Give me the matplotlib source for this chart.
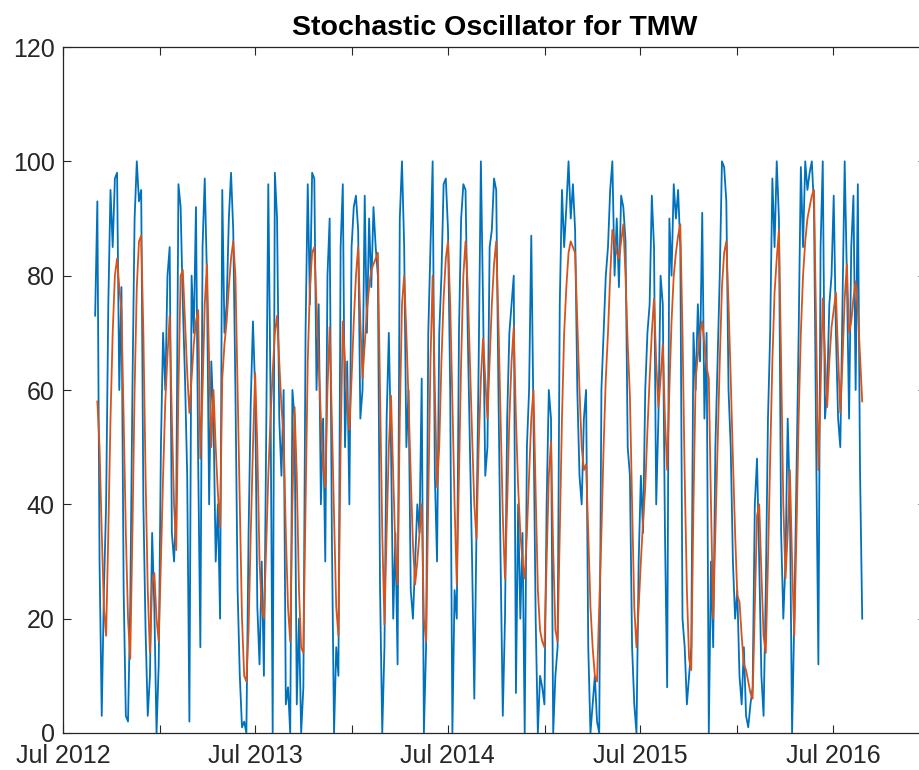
import numpy as np
import pandas as pd
import matplotlib
matplotlib.use('Agg')
import matplotlib.pyplot as plt

plt.rcParams['font.family'] = ['Liberation Sans', 'DejaVu Sans']

# %K (fast line), sampled evenly from 2012-08-31 to 2016-08-25
k_line = [
    73, 93, 30, 3, 25, 40, 75, 95, 85, 97,
    98, 60, 78, 25, 3, 2, 22, 60, 90, 100,
    93, 95, 40, 18, 3, 10, 35, 22, 0, 12,
    50, 70, 60, 80, 85, 35, 30, 40, 96, 92,
    75, 62, 45, 2, 80, 70, 92, 48, 15, 85,
    97, 80, 40, 65, 55, 30, 40, 20, 95, 70,
    75, 90, 98, 88, 60, 25, 10, 1, 2, 0,
    35, 58, 72, 60, 22, 12, 30, 10, 50, 96,
    60, 0, 98, 90, 55, 45, 60, 5, 8, 0,
    60, 55, 5, 20, 0, 8, 70, 96, 75, 98,
    97, 60, 75, 40, 55, 30, 80, 90, 35, 0,
    15, 10, 85, 96, 50, 65, 40, 85, 92, 94,
    88, 55, 60, 94, 70, 90, 78, 92, 85, 80,
    25, 0, 15, 55, 70, 50, 20, 35, 12, 90,
    100, 85, 50, 60, 25, 20, 30, 40, 35, 62,
    0, 15, 70, 85, 100, 45, 30, 70, 80, 96,
    97, 88, 60, 0, 25, 20, 70, 90, 96, 95,
    70, 50, 30, 6, 35, 65, 100, 75, 45, 50,
    85, 88, 97, 95, 60, 30, 3, 20, 55, 70,
    75, 80, 7, 40, 20, 35, 0, 50, 60, 87,
    55, 20, 0, 10, 8, 5, 40, 60, 55, 0,
    10, 15, 75, 95, 85, 92, 100, 90, 96, 88,
    60, 45, 40, 55, 60, 15, 0, 5, 10, 2,
    0, 60, 70, 80, 85, 95, 100, 80, 90, 78,
    94, 92, 86, 50, 45, 15, 5, 0, 30, 45,
    35, 60, 70, 75, 94, 85, 40, 55, 80, 75,
    35, 8, 90, 80, 96, 90, 95, 85, 20, 15,
    5, 10, 15, 70, 60, 75, 65, 91, 55, 70,
    0, 30, 15, 50, 65, 80, 100, 99, 93, 60,
    50, 30, 20, 25, 10, 5, 15, 3, 1, 5,
    8, 40, 48, 30, 10, 3, 25, 55, 70, 97,
    85, 100, 90, 35, 20, 30, 55, 40, 0, 20,
    45, 70, 99, 85, 100, 95, 98, 100, 92, 50,
    12, 85, 100, 55, 60, 75, 80, 94, 70, 55,
    50, 75, 100, 80, 55, 85, 94, 60, 96, 46, 20,
]

# %D (slow line), same dates
d_line = [
    np.nan, 58, 50, 35, 22, 17, 35, 55, 70, 80,
    83, 78, 74, 55, 35, 20, 13, 35, 60, 78,
    86, 87, 70, 45, 25, 14, 26, 28, 20, 16,
    30, 45, 58, 66, 73, 55, 40, 32, 60, 80,
    81, 72, 63, 56, 62, 68, 72, 74, 48, 60,
    75, 82, 65, 50, 60, 50, 42, 36, 62, 68,
    72, 78, 83, 86, 80, 60, 40, 20, 10, 9,
    18, 35, 50, 63, 50, 30, 22, 20, 32, 45,
    55, 63, 70, 73, 65, 57, 52, 35, 22, 16,
    40, 57, 45, 25, 15, 14, 40, 65, 78, 84,
    85, 75, 65, 55, 47, 43, 60, 71, 55, 38,
    22, 17, 50, 72, 65, 58, 53, 62, 72, 80,
    85, 72, 62, 68, 74, 78, 81, 82, 83, 84,
    60, 35, 19, 35, 50, 59, 45, 32, 26, 55,
    75, 80, 70, 58, 45, 33, 26, 30, 35, 40,
    20, 16, 40, 65, 80, 60, 43, 50, 65, 76,
    83, 86, 75, 58, 40, 26, 45, 65, 80, 86,
    78, 65, 52, 40, 34, 50, 62, 69, 62, 55,
    65, 75, 82, 86, 72, 55, 38, 27, 40, 55,
    65, 71, 55, 43, 35, 30, 27, 35, 45, 55,
    60, 42, 25, 18, 16, 15, 30, 45, 51, 32,
    18, 16, 35, 55, 70, 78, 84, 86, 85, 84,
    72, 60, 50, 46, 47, 35, 22, 15, 10, 9,
    22, 35, 50, 62, 70, 80, 88, 86, 84, 83,
    86, 89, 80, 68, 59, 40, 22, 15, 22, 30,
    37, 43, 53, 62, 70, 76, 65, 57, 62, 68,
    55, 46, 60, 72, 80, 84, 87, 89, 70, 45,
    25, 13, 11, 40, 62, 66, 70, 72, 68, 64,
    62, 40, 20, 35, 50, 65, 78, 84, 86, 75,
    62, 48, 35, 24, 23, 17, 12, 11, 9, 7,
    6, 22, 38, 40, 28, 17, 14, 30, 48, 65,
    77, 83, 88, 65, 40, 27, 35, 46, 30, 17,
    35, 55, 70, 80, 86, 90, 92, 94, 95, 70,
    46, 60, 76, 66, 57, 65, 71, 74, 77, 66,
    56, 65, 76, 82, 70, 72, 76, 79, 74, 66, 58,
]

tick_dates = ['2012-07-01', '2013-01-01', '2013-07-01', '2014-01-01',
              '2014-07-01', '2015-01-01', '2015-07-01', '2016-01-01',
              '2016-07-01']
tick_labels = ['Jul 2012', '', 'Jul 2013', '', 'Jul 2014', '', 'Jul 2015', '',
               'Jul 2016']

dates = pd.date_range('2012-08-31', '2016-08-25', periods=len(k_line))

fig = plt.figure(figsize=(9.2, 7.7), dpi=100)
ax = fig.add_axes([63 / 920, 37 / 770, (926 - 63) / 920, 686 / 770])

ax.plot(dates, k_line, color='#0072BD', lw=1.3)
ax.plot(dates, d_line, color='#D95319', lw=1.3)

ax.set_xlim(pd.Timestamp('2012-07-01'), pd.Timestamp('2016-12-24'))
ax.set_ylim(0, 120)
ax.set_xticks(pd.to_datetime(tick_dates))
ax.set_xticklabels(tick_labels)
ax.set_yticks(range(0, 121, 20))

ax.tick_params(direction='in', length=5.5, width=0.8, top=True, right=True,
               labelsize=18, colors='#262626', pad=6)
ax.tick_params(axis='x', pad=8)
for s in ax.spines.values():
    s.set_linewidth(0.9)
    s.set_color('#262626')

ax.set_title('Stochastic Oscillator for TMW', fontsize=20.5, fontweight='bold',
             pad=9)

fig.savefig('out.png', dpi=100)
